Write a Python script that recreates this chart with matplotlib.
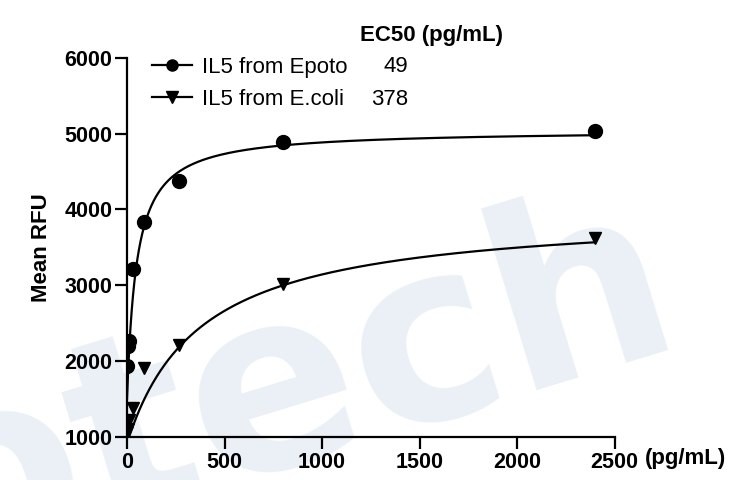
import matplotlib.pyplot as plt
import numpy as np

plt.rcParams['font.family'] = ['Liberation Sans', 'DejaVu Sans']

# concentrations (pg/mL), 3-fold dilution series
conc = [2400, 800, 266.7, 88.9, 29.6, 9.9, 3.3, 1.1]
epoto_rfu = [5040, 4890, 4370, 3840, 3210, 2270, 2200, 1930]
ecoli_rfu = [3630, 3020, 2210, 1910, 1380, 1220, 1100, 1070]

# 4PL fit parameters: bottom, top, EC50, hill
epoto_fit = [1500, 5050, 49, 1.0]
ecoli_fit = [916, 3985, 378, 1.0]
labels = ['IL5 from Epoto', 'IL5 from E.coli']
ec50_text = ['49', '378']


def four_pl(x, p):
    bottom, top, ec50, hill = p
    return bottom + (top - bottom) / (1 + (ec50 / x) ** hill)


fig = plt.figure(figsize=(7.3, 4.8), dpi=100)
ax = fig.add_axes([0.174, 0.0896, 0.668, 0.79])
ax.set_facecolor('none')

# watermark
fig.text(-0.09, -0.19, 'otech', fontsize=180, weight='bold', color='#ebf0f7',
         family='DejaVu Sans', rotation=17, rotation_mode='anchor',
         ha='left', va='baseline', zorder=-10)

xs = np.linspace(0.05, 2400, 3000)
ax.plot(xs, four_pl(xs, epoto_fit), color='black', lw=1.6, zorder=2)
ax.plot(xs, four_pl(xs, ecoli_fit), color='black', lw=1.6, zorder=2)
ax.plot(conc, epoto_rfu, 'o', color='black', ms=10, zorder=3)
ax.plot(conc, ecoli_rfu, 'v', color='black', ms=9, zorder=3)

# legend handles (line + marker)
h1, = ax.plot([], [], '-o', color='black', ms=8, lw=1.6)
h2, = ax.plot([], [], '-v', color='black', ms=8, lw=1.6)
leg = ax.legend([h1, h2], labels, loc='upper left', bbox_to_anchor=(0.01, 1.055),
                frameon=False, fontsize=16, handlelength=1.8, handletextpad=0.45,
                labelspacing=0.5)

fig.text(0.591, 0.925, 'EC50 (pg/mL)', fontsize=16, weight='bold', ha='center', va='center')
fig.text(0.559, 0.8625, ec50_text[0], fontsize=16, ha='right', va='center')
fig.text(0.559, 0.792, ec50_text[1], fontsize=16, ha='right', va='center')

ax.set_xlim(0, 2500)
ax.set_ylim(1000, 6000)
ax.set_xticks([0, 500, 1000, 1500, 2000, 2500])
ax.set_yticks([1000, 2000, 3000, 4000, 5000, 6000])
for s in ['top', 'right']:
    ax.spines[s].set_visible(False)
for s in ['left', 'bottom']:
    ax.spines[s].set_linewidth(1.6)
ax.tick_params(width=1.6, length=8.5, labelsize=15.5, pad=2)
for t in ax.get_xticklabels() + ax.get_yticklabels():
    t.set_fontweight('bold')

ax.set_ylabel('Mean RFU', fontsize=16, weight='bold', labelpad=9)
fig.text(0.884, 0.045, '(pg/mL)', fontsize=16, weight='bold', ha='left', va='center')

fig.savefig('out.png', dpi=100)
